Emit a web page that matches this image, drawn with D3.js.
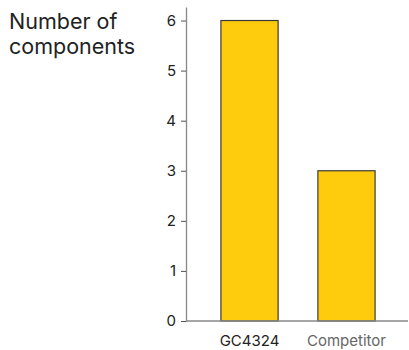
<!DOCTYPE html>
<html lang="en">
<meta charset="utf-8">
<head>
    <script src="https://d3js.org/d3.v7.min.js"></script>
    <style>
        body { margin: 0; background: #fff; }
        text { font-family: Inter, "Liberation Sans", Arial, sans-serif; }
    </style>
</head>
<body>
<script>
// data
const categories = ["GC4324", "Competitor"];
const values = [6, 3];
const yTicks = [0, 1, 2, 3, 4, 5, 6];
const titleLines = ["Number of", "components"];

const W = 409, H = 350;
const axisX = 186, axisY = 321;

var svg = d3.select("body").append("svg")
    .attr("width", W)
    .attr("height", H);

// Y scale
var y = d3.scaleLinear()
    .domain([0, 6.27])
    .range([axisY, 7]);

// X scale
var x = d3.scaleBand()
    .domain(categories)
    .range([axisX, 410])
    .paddingInner(0.41)
    .paddingOuter(0.36);

// bars
svg.selectAll("rect.bar")
    .data(values)
    .enter()
    .append("rect")
    .attr("class", "bar")
    .attr("x", function(d, i) { return x(categories[i]); })
    .attr("y", function(d) { return y(d); })
    .attr("width", x.bandwidth())
    .attr("height", function(d) { return axisY - y(d); })
    .attr("fill", "#fecb0d")
    .attr("stroke", "#3a3a3a")
    .attr("stroke-width", 1.2);

// Y axis
var yAxis = svg.append("g")
    .attr("transform", "translate(" + axisX + ",0)")
    .call(d3.axisLeft(y).tickValues(yTicks).tickFormat(d3.format("d"))
        .tickSize(5).tickPadding(5).tickSizeOuter(0));
yAxis.select(".domain").attr("stroke", "#888").attr("stroke-width", 1.3);
yAxis.selectAll(".tick line").attr("stroke", "#555");
yAxis.selectAll(".tick text")
    .attr("fill", "#222")
    .style("font-size", "15px");

// X axis line
svg.append("line")
    .attr("x1", axisX).attr("x2", 408)
    .attr("y1", axisY).attr("y2", axisY)
    .attr("stroke", "#888")
    .attr("stroke-width", 1.6);

// category labels
svg.selectAll("text.cat")
    .data(categories)
    .enter()
    .append("text")
    .attr("class", "cat")
    .attr("x", function(d) { return x(d) + x.bandwidth() / 2; })
    .attr("y", 346)
    .attr("text-anchor", "middle")
    .attr("fill", function(d, i) { return i === 0 ? "#222" : "#666"; })
    .style("font-size", "15px")
    .text(function(d) { return d; });

// title
svg.selectAll("text.title")
    .data(titleLines)
    .enter()
    .append("text")
    .attr("class", "title")
    .attr("x", 9)
    .attr("y", function(d, i) { return 29 + i * 25; })
    .attr("fill", "#222")
    .style("font-size", "21.5px")
    .text(function(d) { return d; });
</script>
</body>
</html>
